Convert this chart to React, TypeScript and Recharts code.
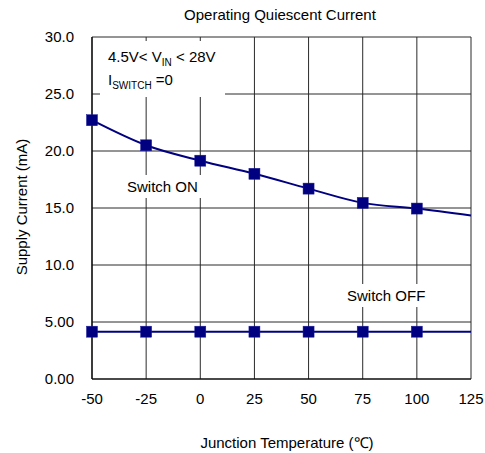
import React from "react";
import { LineChart, Line, XAxis, YAxis, CartesianGrid } from "recharts";

const temps = [-50, -25, 0, 25, 50, 75, 100, 125];
const switchOn = [22.7, 20.5, 19.15, 18.0, 16.7, 15.45, 14.95, 14.35];
const switchOff = [4.15, 4.15, 4.15, 4.15, 4.15, 4.15, 4.15, 4.15];
const markedTemps = [-50, -25, 0, 25, 50, 75, 100];
const xTicks = [-50, -25, 0, 25, 50, 75, 100, 125];
const yTicks = [0, 5, 10, 15, 20, 25, 30];
const yTickLabels = ["0.00", "5.00", "10.0", "15.0", "20.0", "25.0", "30.0"];

const data = temps.map((t, i) => ({ temp: t, on: switchOn[i], off: switchOff[i] }));

const FONT = "'Liberation Sans', Arial, sans-serif";
const NAVY = "#000080";

const squareDot = (props: any) => {
  const { cx, cy, payload, index, dataKey } = props;
  const k = `${dataKey}-${index}`;
  if (!markedTemps.includes(payload.temp)) return <g key={k} />;
  return <rect key={k} x={cx - 5.5} y={cy - 5.5} width={11} height={11} fill={NAVY} stroke="#1a1a99" strokeWidth={0.5} />;
};

const textStyle: React.CSSProperties = {
  position: "absolute",
  fontFamily: FONT,
  fontSize: 15,
  color: "#000",
  whiteSpace: "nowrap",
};

export default function App() {
  return (
    <div style={{ position: "absolute", left: 0, top: 0, width: 485, height: 453, background: "#fff" }}>
      <LineChart
        width={485}
        height={453}
        data={data}
        margin={{ top: 37, right: 14, bottom: 44, left: 0 }}
        style={{ fontFamily: FONT }}
      >
        <CartesianGrid stroke="#2a2a2a" strokeWidth={1} />
        <XAxis
          dataKey="temp"
          type="number"
          domain={[-50, 125]}
          ticks={xTicks}
          height={30}
          tickSize={0}
          tickMargin={14}
          axisLine={{ stroke: "#000", strokeWidth: 1.2 }}
          tick={{ fill: "#000", fontSize: 15, fontFamily: FONT }}
        />
        <YAxis
          type="number"
          domain={[0, 30]}
          ticks={yTicks}
          width={92}
          tickSize={0}
          tickMargin={18}
          axisLine={{ stroke: "#000", strokeWidth: 1.2 }}
          tick={{ fill: "#000", fontSize: 15, fontFamily: FONT }}
          tickFormatter={(v: number) => yTickLabels[yTicks.indexOf(v)] ?? String(v)}
        />
        <Line
          type="monotone"
          dataKey="on"
          stroke={NAVY}
          strokeWidth={2}
          dot={squareDot}
          activeDot={false}
          isAnimationActive={false}
        />
        <Line
          type="linear"
          dataKey="off"
          stroke={NAVY}
          strokeWidth={2}
          dot={squareDot}
          activeDot={false}
          isAnimationActive={false}
        />
      </LineChart>

      <div style={{ ...textStyle, left: 180, width: 200, top: 5, lineHeight: "20px", textAlign: "center" }}>
        Operating Quiescent Current
      </div>
      <div style={{ ...textStyle, left: 187, width: 200, top: 433, lineHeight: "20px", textAlign: "center" }}>
        Junction Temperature (℃)
      </div>
      <div
        style={{
          ...textStyle,
          left: 22 - 100,
          top: 207 - 10,
          width: 200,
          lineHeight: "20px",
          textAlign: "center",
          transform: "rotate(-90deg)",
        }}
      >
        Supply Current (mA)
      </div>

      <div
        style={{
          ...textStyle,
          left: 100,
          top: 41,
          width: 117,
          height: 51,
          paddingLeft: 8,
          paddingTop: 5,
          lineHeight: "21px",
          background: "#fff",
        }}
      >
        <div>
          4.5V&lt; V<span style={{ fontSize: 10, position: "relative", top: 4 }}>IN</span> &lt; 28V
        </div>
        <div>
          I<span style={{ fontSize: 10, position: "relative", top: 4 }}>SWITCH</span> =0
        </div>
      </div>

      <div style={{ ...textStyle, left: 124, top: 175, lineHeight: "23px", padding: "0 3px", background: "#fff" }}>
        Switch ON
      </div>
      <div style={{ ...textStyle, left: 344, top: 284, lineHeight: "23px", padding: "0 3px", background: "#fff" }}>
        Switch OFF
      </div>
    </div>
  );
}
